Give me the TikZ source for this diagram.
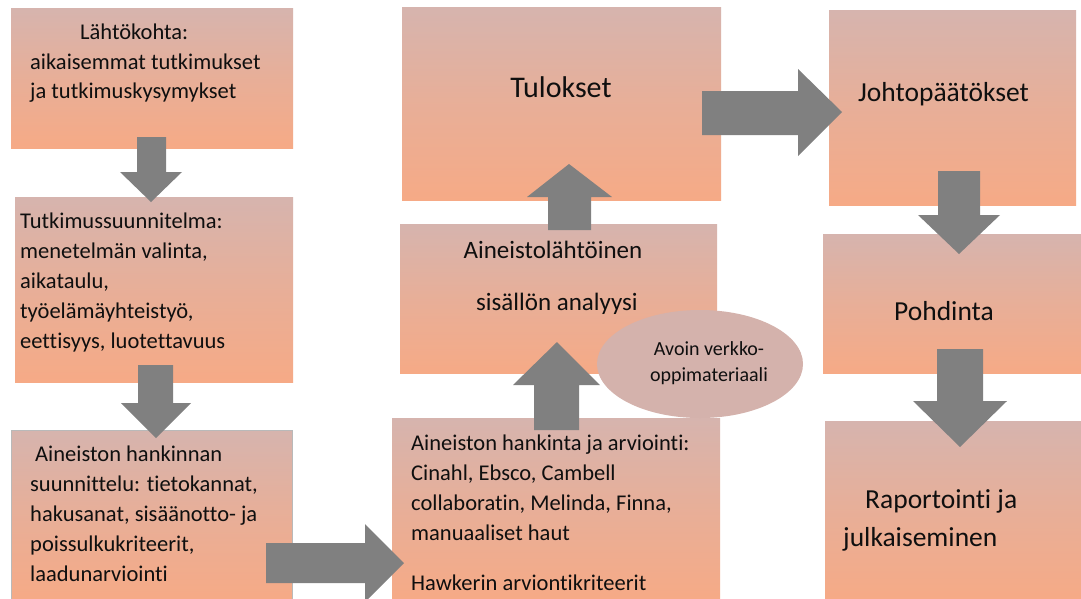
\documentclass[tikz,border=0pt]{standalone}
\usepackage{fontspec}
\setmainfont{Carlito}[Ligatures=CommonOff]
\usetikzlibrary{fit,shapes.geometric}
\definecolor{boxtop}{RGB}{214,180,174}
\definecolor{boxbot}{RGB}{246,170,134}
\definecolor{ellcol}{RGB}{212,178,172}
\definecolor{arrgray}{RGB}{128,128,128}
\definecolor{txtcol}{RGB}{15,15,15}
\newcommand\bodyfont{\fontsize{22.5}{30}\selectfont}
\newcommand\mlines[2]{\vtop{\baselineskip=#1pt\lineskiplimit=-20pt #2}}
\tikzset{
  box/.style={inner sep=0pt, draw=none, top color=boxtop, bottom color=boxbot, middle color=boxtop!45!boxbot},
  txt/.style={inner sep=0pt, text=txtcol, font=\bodyfont},
  bigtxt/.style={inner sep=0pt, text=txtcol, font=\fontsize{27.5}{33}\selectfont},
  blockarrow/.style={fill=arrgray, draw=none},
}
\begin{document}
\begin{tikzpicture}[x=1pt,y=-1pt]
\useasboundingbox (0,0) rectangle (1081,598);
\fill[white] (0,0) rectangle (1081,598);
% boxes
\node[box, fit={(11,8)(293,148)}] (b1) {};
\node[box, fit={(15,197)(293,382)}] (b2) {};
\node[box, draw=gray!55, line width=0.8pt, fit={(11,430)(292,600)}] (b3) {};
\node[box, fit={(392,418)(720,600)}] (b4) {};
\node[box, fit={(400,224)(717,373)}] (b5) {};
\node[box, fit={(402,7)(721,200)}] (b6) {};
\node[box, fit={(829,10)(1076,205)}] (b7) {};
\node[box, fit={(823,234)(1081,373)}] (b8) {};
\node[box, fit={(825,421)(1081,600)}] (b9) {};
% ellipse
\node[ellipse, fill=ellcol, draw=none, minimum width=206, minimum height=108, inner sep=0pt] (ell) at (700,364) {};
% texts
\node[txt, anchor=base west] (t1a) at (80,39) {Lähtökohta:};
\node[txt, anchor=base west] (t1b) at (30,69) {\mlines{29.5}{\hbox{aikaisemmat tutkimukset}\hbox{ja tutkimuskysymykset}}};
\node[txt, anchor=base west] (t2) at (20,228) {\mlines{30}{\hbox{Tutkimussuunnitelma:}\hbox{menetelmän valinta,}\hbox{aikataulu,}\hbox{työelämäyhteistyö,}\hbox{eettisyys, luotettavuus}}};
\node[txt, anchor=base west] (t3a) at (35,461) {Aineiston hankinnan};
\node[txt, anchor=base west] (t3b) at (30,491) {\mlines{30.3}{\hbox{suunnittelu: tietokannat,}\hbox{hakusanat, sisäänotto- ja}\hbox{poissulkukriteerit,}\hbox{laadunarviointi}}};
\node[txt, anchor=base west] (t4) at (411,450) {\mlines{30.3}{\hbox{Aineiston hankinta ja arviointi:}\hbox{Cinahl, Ebsco, Cambell}\hbox{collaboratin, Melinda, Finna,}\hbox{manuaaliset haut}}};
\node[txt, anchor=base west] (t4b) at (411,590) {Hawkerin arviontikriteerit};
\node[inner sep=0pt, text=txtcol, font=\fontsize{25}{30}\selectfont, anchor=base] (t5a) at (553,258) {Aineistolähtöinen};
\node[inner sep=0pt, text=txtcol, font=\fontsize{25}{30}\selectfont, anchor=base] (t5b) at (557,310) {sisällön analyysi};
\node[inner sep=0pt, text=txtcol, font=\fontsize{30}{36}\selectfont, anchor=base] (t6) at (561,97) {Tulokset};
\node[bigtxt, anchor=base west] (t7) at (858,101) {Johtopäätökset};
\node[bigtxt, anchor=base west] (t8) at (894,320) {Pohdinta};
\node[bigtxt, anchor=base west] (t9a) at (865,508) {Raportointi ja};
\node[bigtxt, anchor=base west] (t9b) at (843,546) {julkaiseminen};
\node[inner sep=0pt, text=txtcol, font=\fontsize{20}{26}\selectfont, anchor=base] (te1) at (709,355) {Avoin verkko-};
\node[inner sep=0pt, text=txtcol, font=\fontsize{20}{26}\selectfont, anchor=base] (te2) at (709,381) {oppimateriaali};
% block arrows
% b1 -> b2
\fill[blockarrow] (137,137) -- (166,137) -- (166,172) -- (182,172) -- (151,202) -- (120,172) -- (137,172) -- cycle;
% b2 -> b3
\fill[blockarrow] (138,365) -- (173,365) -- (173,403) -- (191,403) -- (156,438) -- (121,403) -- (138,403) -- cycle;
% b3 -> b4
\fill[blockarrow] (266,543) -- (365,543) -- (365,524) -- (404,563) -- (365,602) -- (365,583) -- (266,583) -- cycle;
% b4 -> b5
\fill[blockarrow] (534,430) -- (534,385) -- (513,385) -- (557,342) -- (600,385) -- (579,385) -- (579,430) -- cycle;
% b5 -> b6
\fill[blockarrow] (548,230) -- (548,197) -- (527,197) -- (569,164) -- (612,197) -- (591,197) -- (591,230) -- cycle;
% b6 -> b7
\fill[blockarrow] (702,91) -- (798,91) -- (798,69) -- (842,112) -- (798,156) -- (798,135) -- (702,135) -- cycle;
% b7 -> b8
\fill[blockarrow] (938,171) -- (980,171) -- (980,215) -- (1000,215) -- (959,254) -- (918,215) -- (938,215) -- cycle;
% b8 -> b9
\fill[blockarrow] (937,349) -- (983,349) -- (983,401) -- (1007,401) -- (960,447) -- (913,401) -- (937,401) -- cycle;
\end{tikzpicture}
\end{document}
